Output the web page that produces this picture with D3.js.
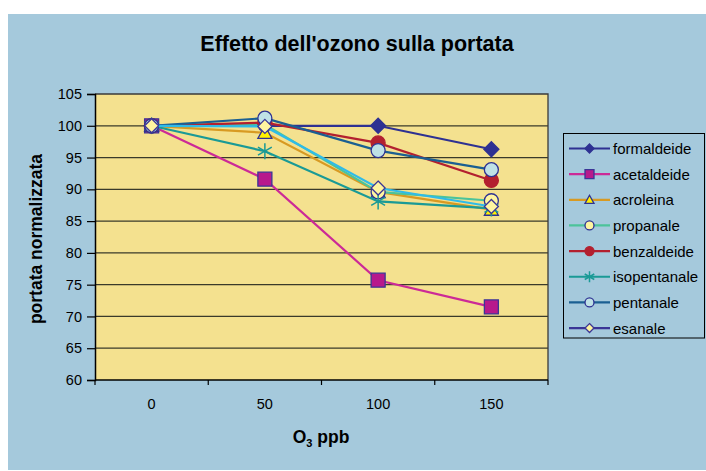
<!DOCTYPE html>
<html>
<head>
<meta charset="utf-8">
<script src="https://cdn.jsdelivr.net/npm/d3@7"></script>
<style>
  html, body { margin: 0; padding: 0; background: #ffffff; }
  svg { display: block; font-family: "Liberation Sans", Arial, sans-serif; }
</style>
</head>
<body>
<svg id="chart" width="706" height="471"></svg>
<script>
// Ozone exposure levels (ppb) on the category axis
const ozoneLevels = ["0", "50", "100", "150"];
const yTicks = [60, 65, 70, 75, 80, 85, 90, 95, 100, 105];

// Normalised flow for each aldehyde
const formaldeide  = [100, 100, 100, 96.3];
const acetaldeide  = [100, 91.6, 75.7, 71.5];
const acroleina    = [100, 98.9, 89.6, 86.8];
const propanale    = [100, 100.2, 89.6, 88.2];
const benzaldeide  = [100, 100.5, 97.3, 91.4];
const isopentanale = [100, 96.0, 88.1, 87.0];
const pentanale    = [100, 101.2, 96.1, 93.1];
const esanale      = [100, 99.9, 90.2, 87.3];

const seriesNames = ["formaldeide", "acetaldeide", "acroleina", "propanale",
                     "benzaldeide", "isopentanale", "pentanale", "esanale"];
const seriesValues = [formaldeide, acetaldeide, acroleina, propanale,
                      benzaldeide, isopentanale, pentanale, esanale];

// Styling per series: line colour, marker shape, marker fill, marker outline
const styles = [
  { line: "#2e3192", legendLine: "#2e3192", shape: "diamond",  fill: "#2e3192", stroke: "#2e3192" },
  { line: "#cc2a97", legendLine: "#cc2a97", shape: "square",   fill: "#b7198c", stroke: "#3b3596" },
  { line: "#d89a22", legendLine: "#d89a22", shape: "triangle", fill: "#fff200", stroke: "#2e3192" },
  { line: "#4cc39a", legendLine: "#4cc39a", shape: "circle",   fill: "#fff5a0", stroke: "#2e3192" },
  { line: "#b3202f", legendLine: "#b3202f", shape: "circle",   fill: "#b3202f", stroke: "#b3202f" },
  { line: "#1a9a96", legendLine: "#1a9a96", shape: "asterisk", fill: "none",    stroke: "#1a9a96" },
  { line: "#1b5f92", legendLine: "#1b5f92", shape: "circle",   fill: "#bfe1e6", stroke: "#2e3192" },
  { line: "#2fbbe8", legendLine: "#3b3596", shape: "diamond",  fill: "#fff5a0", stroke: "#3b3596" }
];

const svg = d3.select("#chart");
const bg = "#a5c9dc";

// Outer chart panel
svg.append("rect").attr("x", 8).attr("y", 14).attr("width", 698).attr("height", 456).attr("fill", bg);

const plot = { left: 95, top: 94, right: 548, bottom: 380 };

const x = d3.scaleBand().domain(ozoneLevels).range([plot.left, plot.right]).padding(0);
const y = d3.scaleLinear().domain([60, 105]).range([plot.bottom, plot.top]);

// Plot area
svg.append("rect")
  .attr("x", plot.left).attr("y", plot.top)
  .attr("width", plot.right - plot.left).attr("height", plot.bottom - plot.top)
  .attr("fill", "#f4e18f");

// Horizontal gridlines
svg.append("g").selectAll("line").data(yTicks.filter(t => t > 60 && t < 105)).join("line")
  .attr("x1", plot.left).attr("x2", plot.right)
  .attr("y1", d => y(d)).attr("y2", d => y(d))
  .attr("stroke", "#3a3a2a").attr("stroke-width", 1.3);

// Plot frame (top and right)
svg.append("path")
  .attr("d", `M${plot.left},${plot.top}H${plot.right}V${plot.bottom}`)
  .attr("fill", "none").attr("stroke", "#3a3a3a").attr("stroke-width", 1.3);

// Y axis
const yAxis = svg.append("g")
  .attr("transform", `translate(${plot.left},0)`)
  .call(d3.axisLeft(y).tickValues(yTicks).tickSize(8).tickPadding(5));
yAxis.select(".domain").attr("stroke", "#000").attr("stroke-width", 1.5);
yAxis.selectAll(".tick line").attr("stroke", "#000").attr("stroke-width", 1.2);
yAxis.selectAll(".tick text").attr("font-size", 14.5).attr("fill", "#000")
  .attr("font-family", "Liberation Sans, Arial, sans-serif");

// X axis: ticks sit on category boundaries, labels in category centres
const boundaries = ozoneLevels.map(d => x(d)).concat([plot.right]);
const xg = svg.append("g");
xg.append("line").attr("x1", plot.left).attr("x2", plot.right)
  .attr("y1", plot.bottom).attr("y2", plot.bottom)
  .attr("stroke", "#000").attr("stroke-width", 1.5);
xg.selectAll("line.tick").data(boundaries).join("line").attr("class", "tick")
  .attr("x1", d => d).attr("x2", d => d)
  .attr("y1", plot.bottom).attr("y2", plot.bottom + 5)
  .attr("stroke", "#000").attr("stroke-width", 1.2);
xg.selectAll("text").data(ozoneLevels).join("text")
  .attr("x", d => x(d) + x.bandwidth() / 2).attr("y", 409)
  .attr("text-anchor", "middle").attr("font-size", 14.5).attr("fill", "#000")
  .text(d => d);

// Titles
svg.append("text").attr("x", 357).attr("y", 51).attr("text-anchor", "middle")
  .attr("font-size", 21.5).attr("font-weight", "bold").text("Effetto dell'ozono sulla portata");

svg.append("text")
  .attr("transform", "translate(42,239) rotate(-90)")
  .attr("text-anchor", "middle").attr("font-size", 17.5).attr("font-weight", "bold")
  .text("portata normalizzata");

const xTitle = svg.append("text").attr("x", 321).attr("y", 443)
  .attr("text-anchor", "middle").attr("font-size", 17.5).attr("font-weight", "bold");
xTitle.append("tspan").text("O");
xTitle.append("tspan").attr("font-size", 11).attr("dy", 4).text("3");
xTitle.append("tspan").attr("dy", -4).text(" ppb");

// Marker drawing
function markerPath(shape, r) {
  switch (shape) {
    case "diamond":  return `M0,${-r}L${r},0L0,${r}L${-r},0Z`;
    case "square":   return `M${-r},${-r}H${r}V${r}H${-r}Z`;
    case "triangle": return `M0,${-r}L${r},${r * 0.8}H${-r}Z`;
    case "circle":   return `M${r},0A${r},${r} 0 1,1 ${-r},0A${r},${r} 0 1,1 ${r},0Z`;
    case "asterisk": {
      const a = r * Math.cos(Math.PI / 6), b = r * Math.sin(Math.PI / 6);
      return `M0,${-r}V${r}M${-a},${-b}L${a},${b}M${-a},${b}L${a},${-b}`;
    }
  }
}

function drawMarker(g, st, cx, cy, r) {
  g.append("path")
    .attr("transform", `translate(${cx},${cy})`)
    .attr("d", markerPath(st.shape, r))
    .attr("fill", st.fill)
    .attr("stroke", st.stroke)
    .attr("stroke-width", st.shape === "asterisk" ? 1.5 : 1.3);
}

const line = d3.line()
  .x((d, i) => x(ozoneLevels[i]) + x.bandwidth() / 2)
  .y(d => y(d));

// Series: each line followed by its markers, later series on top
seriesValues.forEach((vals, si) => {
  const st = styles[si];
  const g = svg.append("g");
  g.append("path").datum(vals).attr("d", line)
    .attr("fill", "none").attr("stroke", st.line).attr("stroke-width", 2.2);
  vals.forEach((v, i) => {
    const r = st.shape === "asterisk" ? 8 : (st.shape === "diamond" && si === 0 ? 7.5 : 7);
    drawMarker(g, st, x(ozoneLevels[i]) + x.bandwidth() / 2, y(v), r);
  });
});

// Legend
const legend = svg.append("g");
legend.append("rect").attr("x", 563.5).attr("y", 133.5).attr("width", 141).attr("height", 204.5)
  .attr("fill", bg).attr("stroke", "#000").attr("stroke-width", 1);
seriesNames.forEach((name, i) => {
  const st = styles[i];
  const cy = 148.5 + i * 25.65;
  legend.append("line").attr("x1", 569).attr("x2", 610).attr("y1", cy).attr("y2", cy)
    .attr("stroke", st.legendLine).attr("stroke-width", 2.2);
  drawMarker(legend, st, 589.5, cy, st.shape === "asterisk" ? 5.5 : 4.5);
  legend.append("text").attr("x", 613).attr("y", cy + 5.5)
    .attr("font-size", 15).attr("fill", "#000").text(name);
});
</script>
</body>
</html>
